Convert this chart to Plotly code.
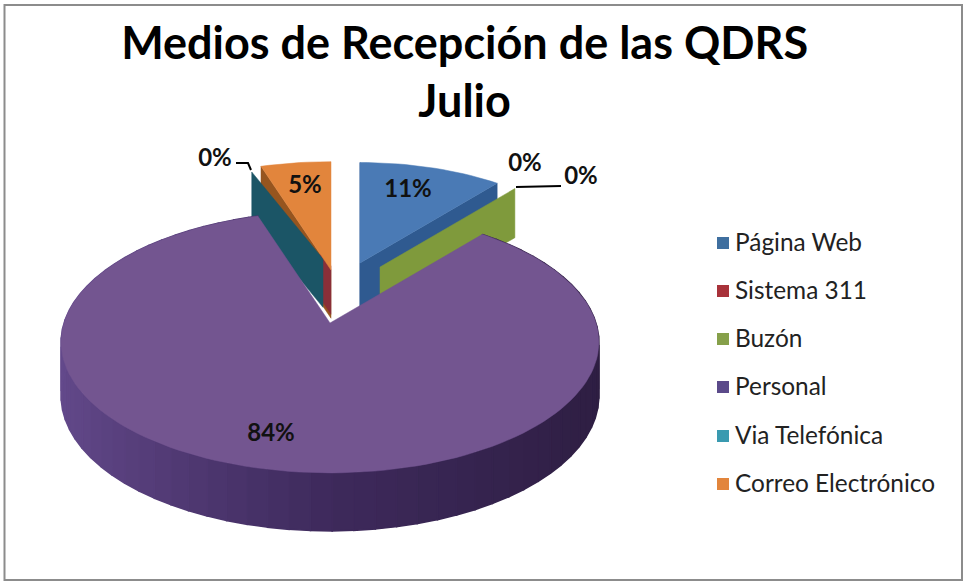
import math
import plotly.graph_objects as go

# data
titulo = "Medios de Recepción de las QDRS<br>Julio"
categorias = ["Página Web", "Sistema 311", "Buzón", "Personal", "Via Telefónica", "Correo Electrónico"]
valores = [11, 0, 0, 84, 0, 5]
colores = ["#4a7ab5", "#8a2f38", "#7f9a3c", "#735590", "#1b5566", "#e2853c"]
muros = ["#2f5a90", "#8a2f38", "#7f9a3c", "#4b3570", "#1b5566", "#96551f"]
leyenda_colores = ["#3f6f9f", "#a8323a", "#86a04a", "#5b4a8a", "#3a9ab0", "#e2853c"]

# pie geometry (pixels), the axes below run 1:1 with the page
RX, RY, K = 266, 128, 0.146
apex = {
    "Página Web": (360, 263, 0.90),
    "Sistema 311": (331, 266, 0.15),
    "Buzón": (380, 267, 0.885),
    "Personal": (330, 323, 1.0),
    "Via Telefónica": (323, 259, 0.83),
    "Correo Electrónico": (331, 270, 0.97),
}
etiqueta_pos = [(408, 191), (525, 165), (581, 178), (271, 435), (215, 160), (305, 187)]
leyenda_y = [243, 291, 339, 387, 436, 484]


def punto(ang, cx, cy, r):
    a = math.radians(ang)
    u, v = math.sin(a), math.cos(a)
    s = r / (1 + K * v)
    return cx + RX * u * s, cy - RY * v * s


def fondo(ang):
    return 53 - 5 * math.cos(math.radians(ang))


def poligono(pts, color, ancho=0.5):
    xs = [p[0] for p in pts] + [pts[0][0]]
    ys = [p[1] for p in pts] + [pts[0][1]]
    return go.Scatter(x=xs, y=ys, mode="lines", fill="toself", fillcolor=color,
                      line=dict(color=color, width=ancho), hoverinfo="skip", showlegend=False)


def muro(ang, nombre, color):
    cx, cy, r = apex[nombre]
    x1, y1 = punto(ang, cx, cy, r)
    d = fondo(ang)
    return poligono([(cx, cy), (x1, y1), (x1, y1 + d), (cx, cy + d)], color)


def cara(a0, a1, nombre, color):
    cx, cy, r = apex[nombre]
    n = max(2, int((a1 - a0) / 2))
    pts = [(cx, cy)] + [punto(a0 + (a1 - a0) * i / n, cx, cy, r) for i in range(n + 1)]
    return poligono(pts, color)


# angle where each slice starts and ends, clockwise from the top
inicio, fin = {}, {}
acum = 0
for c, val in zip(categorias, valores):
    inicio[c] = acum * 3.6
    acum += val
    fin[c] = acum * 3.6

fig = go.Figure()

# slices behind the purple one
fig.add_trace(muro(inicio["Página Web"], "Página Web", muros[0]))
fig.add_trace(muro(fin["Página Web"], "Página Web", muros[0]))
fig.add_trace(cara(inicio["Página Web"], fin["Página Web"], "Página Web", colores[0]))
fig.add_trace(muro(fin["Buzón"], "Buzón", colores[2]))

fig.add_trace(muro(inicio["Correo Electrónico"], "Correo Electrónico", muros[5]))
fig.add_trace(muro(inicio["Via Telefónica"], "Sistema 311", colores[1]))
# the teal wall leans a little more than its angle because of the 3D view
fig.add_trace(muro(inicio["Via Telefónica"] - 3.5, "Via Telefónica", colores[4]))
fig.add_trace(cara(inicio["Correo Electrónico"], fin["Correo Electrónico"], "Correo Electrónico", colores[5]))

# side of the purple slice, shaded by angle
cx, cy, r = apex["Personal"]
a = inicio["Personal"]
while a < fin["Personal"]:
    b = min(a + 4, fin["Personal"])
    u = math.sin(math.radians(a + 2))
    if u < 0:
        rgb = [62 + (100 - 62) * -u, 42 + (74 - 42) * -u, 92 + (140 - 92) * -u]
    else:
        rgb = [62 - 16 * u, 42 - 12 * u, 92 - 26 * u]
    col = "rgb(%d,%d,%d)" % tuple(rgb)
    x0, y0 = punto(a, cx, cy, r)
    x1, y1 = punto(b, cx, cy, r)
    fig.add_trace(poligono([(x0, y0), (x1, y1), (x1, y1 + fondo(b)), (x0, y0 + fondo(a))], col, 1.5))
    a = b
fig.add_trace(cara(inicio["Personal"], fin["Personal"], "Personal", colores[3]))

# leader lines
for xs, ys in [([236, 248, 251], [163, 163, 170]), ([516, 561], [187, 186])]:
    fig.add_trace(go.Scatter(x=xs, y=ys, mode="lines", line=dict(color="black", width=2),
                             hoverinfo="skip", showlegend=False))

# data labels
fig.add_trace(go.Scatter(
    x=[p[0] for p in etiqueta_pos], y=[p[1] for p in etiqueta_pos],
    mode="text", text=[f"{v}%" for v in valores], textposition="middle center",
    textfont=dict(family="Lato", size=24, color="#111111", weight="bold"),
    hoverinfo="skip", showlegend=False))

# legend
fig.add_trace(go.Scatter(
    x=[723] * len(categorias), y=leyenda_y, mode="markers",
    marker=dict(symbol="square", size=12, color=leyenda_colores),
    hoverinfo="skip", showlegend=False))
fig.add_trace(go.Scatter(
    x=[735] * len(categorias), y=[v + 2 for v in leyenda_y], mode="text", text=categorias,
    textposition="middle right",
    textfont=dict(family="Lato", size=24.4, color="#222222"),
    hoverinfo="skip", showlegend=False))

fig.update_layout(
    width=964, height=582,
    margin=dict(l=0, r=0, t=0, b=0),
    paper_bgcolor="white", plot_bgcolor="white",
    showlegend=False,
    xaxis=dict(range=[0, 964], visible=False, fixedrange=True),
    yaxis=dict(range=[582, 0], visible=False, fixedrange=True),
    title=dict(text=titulo, x=0.482, xanchor="center", y=0.899, yanchor="top",
               font=dict(family="Lato", size=45, color="black", weight="bold")),
    shapes=[dict(type="rect", xref="x", yref="y", x0=4.5, y0=5, x1=962, y1=580,
                 line=dict(color="#8c8c8c", width=2), layer="below")],
)

fig.write_html("out.html", config=dict(displayModeBar=False),
               post_script="document.body.style.margin='0';document.body.style.overflow='hidden';")
